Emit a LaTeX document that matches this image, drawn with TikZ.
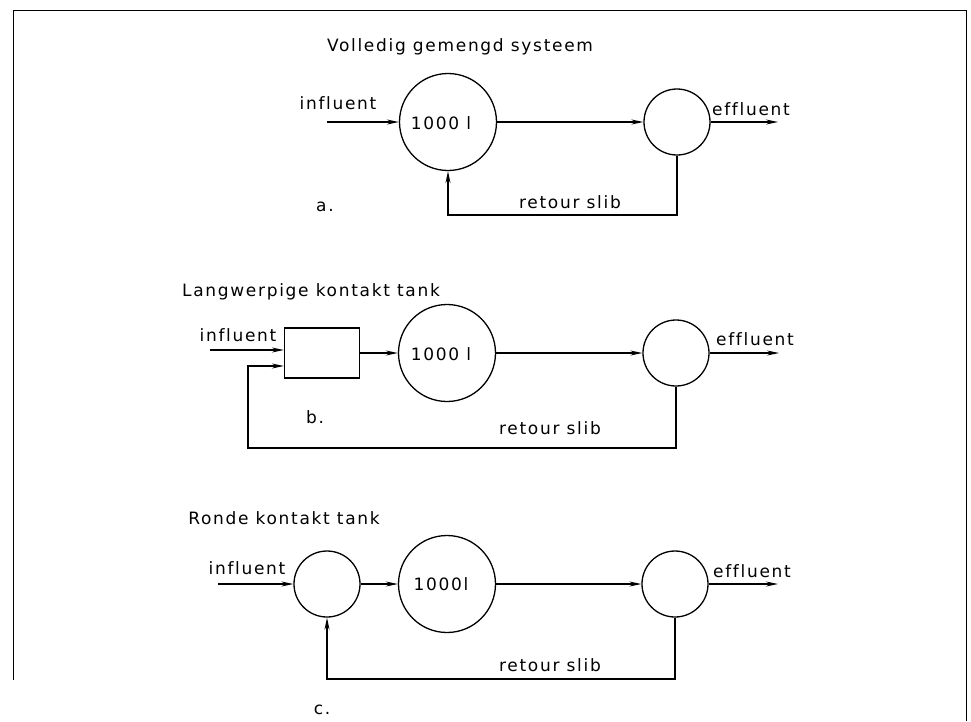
\documentclass[tikz,border=0pt]{standalone}
\usepackage{fontspec}
\setmainfont{DejaVu Sans}[LetterSpace=10, Ligatures={NoCommon}]
\usetikzlibrary{arrows.meta}
\tikzset{
  lbl/.style={inner sep=0pt, font=\fontsize{17}{19}\selectfont},
  tank/.style={draw, circle, line width=1.3pt, inner sep=0pt},
  big/.style={tank, minimum size=97pt},
  small/.style={tank, minimum size=66pt},
  rbox/.style={draw, line width=1.3pt, minimum width=75pt, minimum height=50pt, inner sep=0pt},
  flow/.style={line width=1.2pt, -{Stealth[length=12pt,width=5pt]}},
  frame/.style={line width=1pt}
}
\begin{document}
\begin{tikzpicture}[x=1pt,y=-1pt]
\useasboundingbox (0,0) rectangle (971,721);
% frame
\coordinate (f1) at (13,680);
\coordinate (f2) at (13,10);
\coordinate (f3) at (966,10);
\coordinate (f4) at (966,721);
\draw[frame] (f1) -- (f2) -- (f3) -- (f4);

% ---------- a ----------
\node[lbl] (titleA) at (460,47) {Volledig gemengd systeem};
\node[big] (A1) at (448,122) {};
\node[lbl] (A1t) at (441,123) {1000 l};
\node[small] (A2) at (677,122) {};
\coordinate (ain) at (327,122);
\coordinate (aout) at (778,122);
\coordinate (abot) at (448,215);
\node[lbl] (infA) at (338,103) {influent};
\node[lbl] (effA) at (751,109) {effluent};
\node[lbl] (retA) at (570,202) {retour slib};
\node[lbl] (labA) at (325,207) {a.};
\draw[flow] (ain) -- (A1.west);
\draw[flow] (A1.east) -- (A2.west);
\draw[flow] (A2.east) -- (aout);
\draw[flow] (A2.south) |- (abot) -- (A1.south);

% ---------- b ----------
\node[lbl] (titleB) at (311,292) {Langwerpige kontakt tank};
\node[rbox] (B0) at (322,353) {};
\node[big] (B1) at (447,353) {};
\node[lbl] (B1t) at (441,354) {1000 l};
\node[small] (B2) at (676,353) {};
\coordinate (bin) at (210,350);
\coordinate (bout) at (779,353);
\coordinate (bbot) at (248,448);
\coordinate (bret) at (248,366);
\node[lbl] (infB) at (238,335) {influent};
\node[lbl] (effB) at (755,339) {effluent};
\node[lbl] (retB) at (550,428) {retour slib};
\node[lbl] (labB) at (315,417) {b.};
\draw[flow] (bin) -- (bin -| B0.west);
\draw[flow] (B0.east) -- (B1.west);
\draw[flow] (B1.east) -- (B2.west);
\draw[flow] (B2.east) -- (bout);
\draw[flow] (B2.south) |- (bbot) -- (bret) -- (bret -| B0.west);

% ---------- c ----------
\node[lbl] (titleC) at (284,518) {Ronde kontakt tank};
\node[small] (C1) at (327,584) {};
\node[big] (C2) at (447,584) {};
\node[lbl] (C2t) at (441,584) {1000l};
\node[small] (C3) at (675,584) {};
\coordinate (cin) at (218,584);
\coordinate (cout) at (778,584);
\coordinate (cbot) at (327,679);
\node[lbl] (infC) at (247,568) {influent};
\node[lbl] (effC) at (752,571) {effluent};
\node[lbl] (retC) at (550,665) {retour slib};
\node[lbl] (labC) at (322,710) {c.};
\draw[flow] (cin) -- (C1.west);
\draw[flow] (C1.east) -- (C2.west);
\draw[flow] (C2.east) -- (C3.west);
\draw[flow] (C3.east) -- (cout);
\draw[flow] (C3.south) |- (cbot) -- (C1.south);
\end{tikzpicture}
\end{document}
